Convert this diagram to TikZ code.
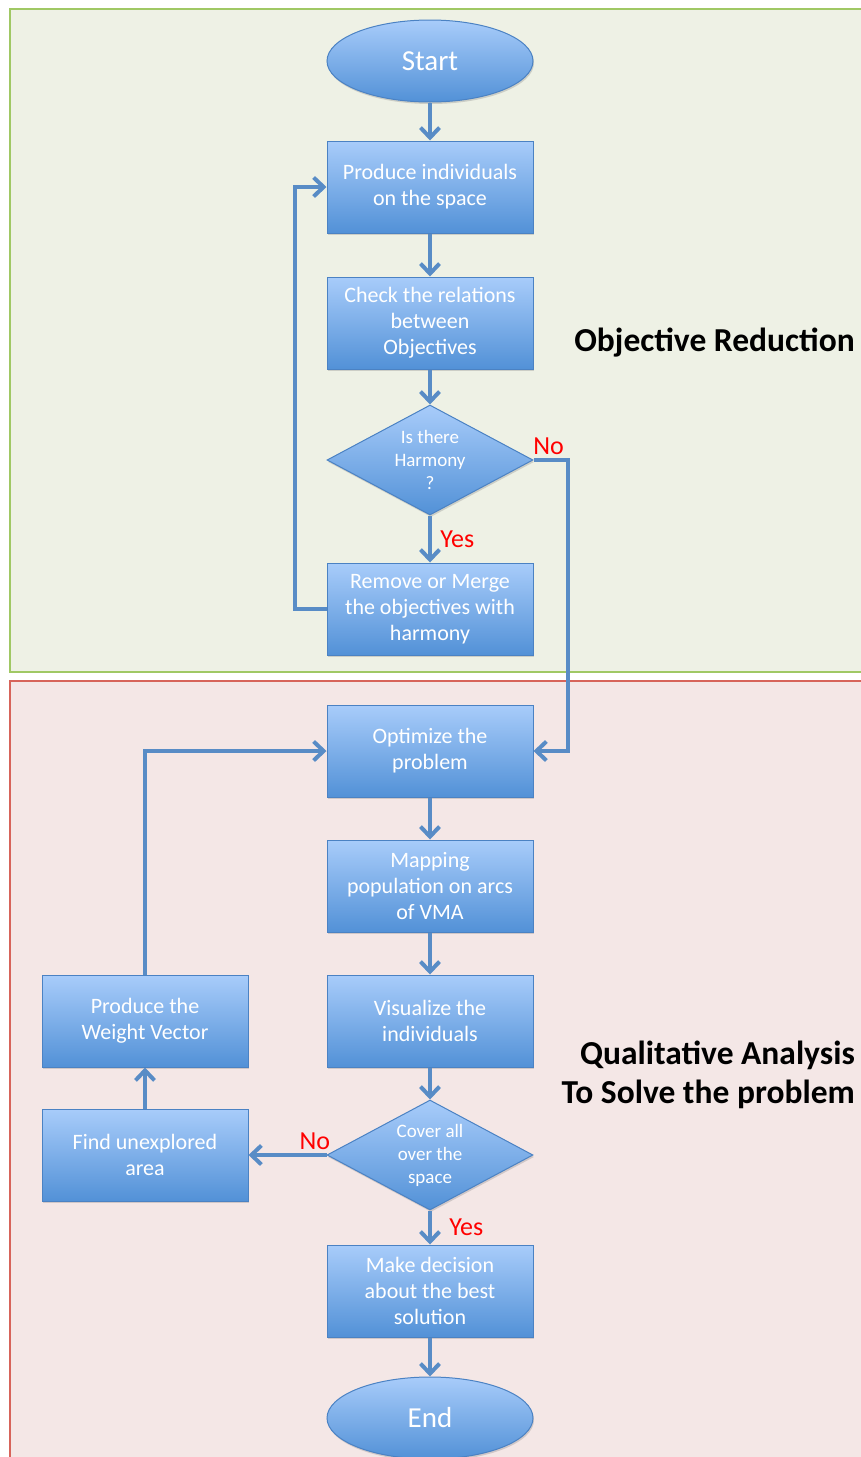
\documentclass[tikz,border=0pt]{standalone}
\usepackage{fontspec}
\setmainfont{Carlito}
\usetikzlibrary{shapes,arrows.meta,positioning,shadows}

\definecolor{grnfill}{RGB}{238,241,229}
\definecolor{grnline}{RGB}{160,200,100}
\definecolor{redfill}{RGB}{244,231,230}
\definecolor{redline}{RGB}{215,100,90}
\definecolor{boxtop}{RGB}{168,204,250}
\definecolor{boxbot}{RGB}{82,145,215}
\definecolor{boxline}{RGB}{75,130,195}
\definecolor{arrowc}{RGB}{88,140,198}

\begin{document}
\begin{tikzpicture}[%
    x=1pt, y=-1pt,                  % work in sketch pixels, y going down
    node distance=136pt and 285pt,  % Global setup of box spacing
    >={Straight Barb[length=10pt,width=19pt]},
    ]
% -------------------------------------------------
% A few box styles
\tikzset{
  base/.style={draw=boxline, line width=1pt, on grid, align=center, text=white,
    top color=boxtop, bottom color=boxbot,
    drop shadow={opacity=0.3, shadow xshift=1pt, shadow yshift=-2pt}},
  proc/.style={base, rectangle, minimum width=206pt, minimum height=92pt,
    font=\fontsize{22}{26}\selectfont},
  term/.style={base, ellipse, minimum width=206pt, minimum height=82pt,
    font=\fontsize{29}{34}\selectfont},
  dec/.style={base, diamond, aspect=1.87, inner sep=0pt, minimum width=206pt,
    minimum height=110pt, font=\fontsize{19}{23}\selectfont},
  % Connector and label styles
  to/.style={->, line width=4pt, draw=arrowc},
  ans/.style={text=red, font=\fontsize{26}{30}\selectfont},
  head/.style={font=\fontsize{33.5}{39}\selectfont\bfseries, align=right,
    anchor=east, inner sep=0pt}
}
\useasboundingbox (0,0) rectangle (861,1457);
% -------------------------------------------------
% The two panels
\draw[draw=grnline, fill=grnfill, line width=1.5pt] (10,9) rectangle (866,672);
\draw[draw=redline, fill=redfill, line width=1.5pt] (10,681) rectangle (866,1462);
\node[head] (hobj) at (855,343) {Objective Reduction};
\node[head] (hqual) at (855,1075) {Qualitative Analysis\\To Solve the problem};
% -------------------------------------------------
% Start by placing the nodes
\node[term] (start) at (430,61) {Start};
\node[proc, below=126pt of start] (prod) {Produce individuals\\on the space};
\node[proc, below=of prod] (chk) {Check the relations\\between\\Objectives};
\node[dec, below=137pt of chk] (harm) {Is there\\Harmony\\?};
\node[proc, below=149pt of harm] (rem) {Remove or Merge\\the objectives with\\harmony};
\node[proc, below=142pt of rem] (opt) {Optimize the\\problem};
\node[proc, below=135pt of opt] (map) {Mapping\\population on arcs\\of VMA};
\node[proc, below=135pt of map] (vis) {Visualize the\\individuals};
\node[dec, below=134pt of vis] (cov) {Cover all\\over the\\space};
\node[proc, below=of cov] (mkdec) {Make decision\\about the best\\solution};
\node[term, below=127pt of mkdec] (end) {End};
\node[proc, left=of vis] (wvec) {Produce the\\Weight Vector};
\node[proc, left=of cov] (find) {Find unexplored\\area};

% Then the connectors
\draw[to] (start) -- (prod);
\draw[to] (prod) -- (chk);
\draw[to] (chk) -- (harm);
\draw[to] (harm) -- node[ans, right, xshift=5pt] (lyes1) {Yes} (rem);
\draw[to] (rem.west) -- ++(-32,0) |- (prod.west);
\draw[to] (harm.east) -- node[ans, above, xshift=-2pt] (lno1) {No} ++(34,0) |- (opt.east);
\draw[to] (opt) -- (map);
\draw[to] (map) -- (vis);
\draw[to] (vis) -- (cov);
\draw[to] (cov) -- node[ans, right, xshift=14pt] (lyes2) {Yes} (mkdec);
\draw[to] (cov.west) -- node[ans, above, pos=0.15] (lno2) {No} (find.east);
\draw[to] (find) -- (wvec);
\draw[to] (wvec.north) |- (opt.west);
\draw[to] (mkdec) -- (end);
% -------------------------------------------------
\end{tikzpicture}
\end{document}
